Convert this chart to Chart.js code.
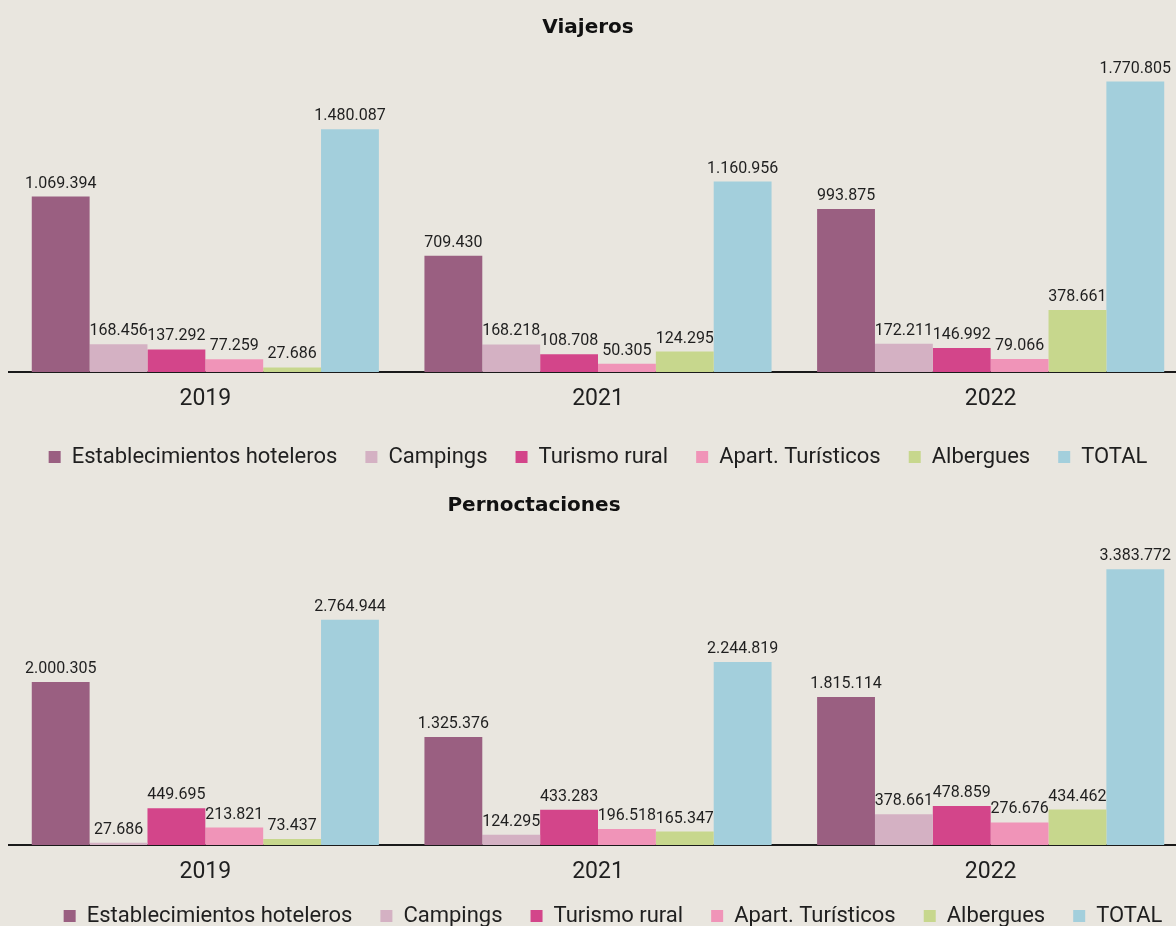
<!DOCTYPE html>
<html lang="es">
<head>
<meta charset="utf-8">
<script src="https://cdn.jsdelivr.net/npm/chart.js@4.4.0/dist/chart.umd.min.js"></script>
<style>
  html, body { margin: 0; padding: 0; background: #e9e6df; overflow: hidden; }
  body { width: 1176px; height: 926px; position: relative; }
  canvas { position: absolute; left: 0; }
  #viajerosChart { top: 0; }
  #pernoctacionesChart { top: 478px; }
</style>
</head>
<body>
<canvas id="viajerosChart" width="1187" height="478"></canvas>
<canvas id="pernoctacionesChart" width="1187" height="467"></canvas>
<script>
const years = ['2019', '2021', '2022'];
const seriesNames = ['Establecimientos hoteleros', 'Campings', 'Turismo rural', 'Apart. Turísticos', 'Albergues', 'TOTAL'];
const seriesColors = ['#9a5f81', '#d4b1c3', '#d3458a', '#f094b8', '#c7d78d', '#a3cfdc'];

// Viajeros
const viajerosHoteleros = [1069394, 709430, 993875];
const viajerosCampings = [168456, 168218, 172211];
const viajerosRural = [137292, 108708, 146992];
const viajerosApart = [77259, 50305, 79066];
const viajerosAlbergues = [27686, 124295, 378661];
const viajerosTotal = [1480087, 1160956, 1770805];

// Pernoctaciones
const pernocHoteleros = [2000305, 1325376, 1815114];
const pernocCampings = [27686, 124295, 378661];
const pernocRural = [449695, 433283, 478859];
const pernocApart = [213821, 196518, 276676];
const pernocAlbergues = [73437, 165347, 434462];
const pernocTotal = [2764944, 2244819, 3383772];

const fmt = (v) => String(v).replace(/\B(?=(\d{3})+(?!\d))/g, '.');

// Value above every bar, Spanish thousands separator.
const barValueLabels = {
    id: 'barValueLabels',
    afterDatasetsDraw(chart) {
        const ctx = chart.ctx;
        ctx.save();
        ctx.font = '16px Roboto';
        ctx.fillStyle = '#1f1f1f';
        ctx.textAlign = 'center';
        ctx.textBaseline = 'alphabetic';
        chart.data.datasets.forEach((ds, i) => {
            chart.getDatasetMeta(i).data.forEach((bar, j) => {
                ctx.fillText(fmt(ds.data[j]), bar.x, bar.y - 9);
            });
        });
        ctx.restore();
    },
};

// Moves title and legend boxes after layout.
const blockShift = {
    id: 'blockShift',
    afterLayout(chart, args, opts) {
        const t = chart.titleBlock;
        t.left += opts.titleDx || 0;
        t.right += opts.titleDx || 0;
        const l = chart.legend;
        l.left += opts.legendDx || 0;
        l.right += opts.legendDx || 0;
        l.top += opts.legendDy || 0;
        l.bottom += opts.legendDy || 0;
    },
};

function barChart(elementId, title, series, yMax, opts) {
    const el = document.getElementById(elementId);
    if (!el) return;

    new Chart(el, {
        type: 'bar',
        data: {
            labels: years,
            datasets: series.map((data, i) => ({
                label: seriesNames[i],
                data,
                backgroundColor: seriesColors[i],
                borderWidth: 0,
                barPercentage: 1,
                categoryPercentage: 0.884,
            })),
        },
        options: {
            responsive: false,
            animation: false,
            layout: { padding: { left: 9, right: 0, top: 0, bottom: 0 } },
            plugins: {
                title: {
                    display: true,
                    text: title,
                    color: '#111',
                    font: { family: 'DejaVu Sans', weight: 'bold', size: 20 },
                    padding: { top: 16, bottom: opts.titleGap },
                },
                legend: {
                    position: 'bottom',
                    labels: {
                        boxWidth: 12,
                        boxHeight: 12,
                        padding: 28,
                        color: '#1f1f1f',
                        font: { family: 'Roboto', size: 22 },
                    },
                },
                tooltip: { enabled: false },
                blockShift: { titleDx: opts.titleDx, legendDx: opts.legendDx, legendDy: opts.legendDy },
            },
            scales: {
                x: {
                    grid: { display: false, drawTicks: false },
                    border: { display: true, color: '#1a1a1a', width: 2 },
                    ticks: { color: '#1f1f1f', padding: 13, font: { family: 'Roboto', size: 23 } },
                    afterFit(scale) { scale.height = opts.axisHeight; },
                },
                y: { display: false, min: 0, max: yMax },
            },
        },
        plugins: [barValueLabels, blockShift],
    });
}

barChart('viajerosChart', 'Viajeros',
    [viajerosHoteleros, viajerosCampings, viajerosRural, viajerosApart, viajerosAlbergues, viajerosTotal],
    2000000, { titleGap: 4, axisHeight: 46, titleDx: -10, legendDx: 0, legendDy: 0 });

barChart('pernoctacionesChart', 'Pernoctaciones',
    [pernocHoteleros, pernocCampings, pernocRural, pernocApart, pernocAlbergues, pernocTotal],
    4000000, { titleGap: 1, axisHeight: 40, titleDx: -64, legendDx: 15, legendDy: -8 });
</script>
</body>
</html>
